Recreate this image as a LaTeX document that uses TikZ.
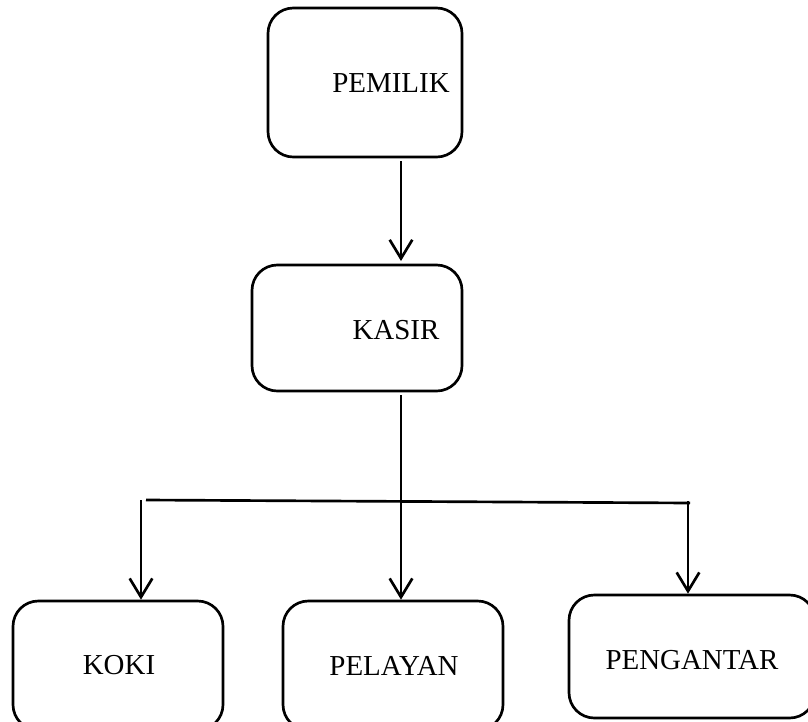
\documentclass[tikz,border=0pt]{standalone}
\usepackage{fontspec}
\setmainfont{Liberation Serif}
\usetikzlibrary{arrows.meta}

\tikzset{
  box/.style={draw, line width=2pt, rounded corners=19pt, inner sep=0pt},
  lbl/.style={font=\fontsize{21.7}{26}\selectfont, inner sep=0pt},
  line/.style={line width=2pt},
  arr/.style={line width=2pt, -{Straight Barb[length=14pt,width=17pt]}},
}

\begin{document}
\begin{tikzpicture}[x=0.75pt,y=-0.75pt]
  % --- Frame ---
  \def\u{0.75pt}   % one pixel of the page
  \useasboundingbox (0,0) rectangle (808,722);
  \clip (0,0) rectangle (808,722);

  % --- Boxes ---
  \node[box, minimum width=194*\u, minimum height=149*\u] (pemilik)   at (365,82.5)  {};
  \node[box, minimum width=210*\u, minimum height=126*\u] (kasir)     at (357,328)   {};
  \node[box, minimum width=210*\u, minimum height=129*\u] (koki)      at (118,665.5) {};
  \node[box, minimum width=220*\u, minimum height=129*\u] (pelayan)   at (393,665.5) {};
  \node[box, minimum width=246*\u, minimum height=123*\u] (pengantar) at (692,656.5) {};

  % --- Labels ---
  \node[lbl] (pemilik-txt)   at (391,83)  {PEMILIK};
  \node[lbl] (kasir-txt)     at (396,330) {KASIR};
  \node[lbl] (koki-txt)      at (119,665) {KOKI};
  \node[lbl] (pelayan-txt)   at (394,666) {PELAYAN};
  \node[lbl] (pengantar-txt) at (692,660) {PENGANTAR};

  % --- Branch points ---
  \coordinate (trunk) at (401,0);     % common x of the middle line
  \coordinate (busL)  at (146,500);   % left end of the cross line
  \coordinate (busR)  at (690,503);   % right end of the cross line
  \coordinate (legL)  at (141,500);   % top of the left leg
  \coordinate (legR)  at (688,501);   % top of the right leg

  % --- Connectors ---
  \draw[arr, shorten <=2pt, shorten >=2pt] (pemilik.south -| trunk) -- (kasir.north -| trunk);
  \draw[arr, shorten <=2pt] (kasir.south -| trunk) -- (pelayan.north -| trunk);
  \draw[line] (busL) -- (busR);
  \draw[arr] (legL) -- (koki.north -| legL);
  \draw[arr] (legR) -- (pengantar.north -| legR);
\end{tikzpicture}
\end{document}
